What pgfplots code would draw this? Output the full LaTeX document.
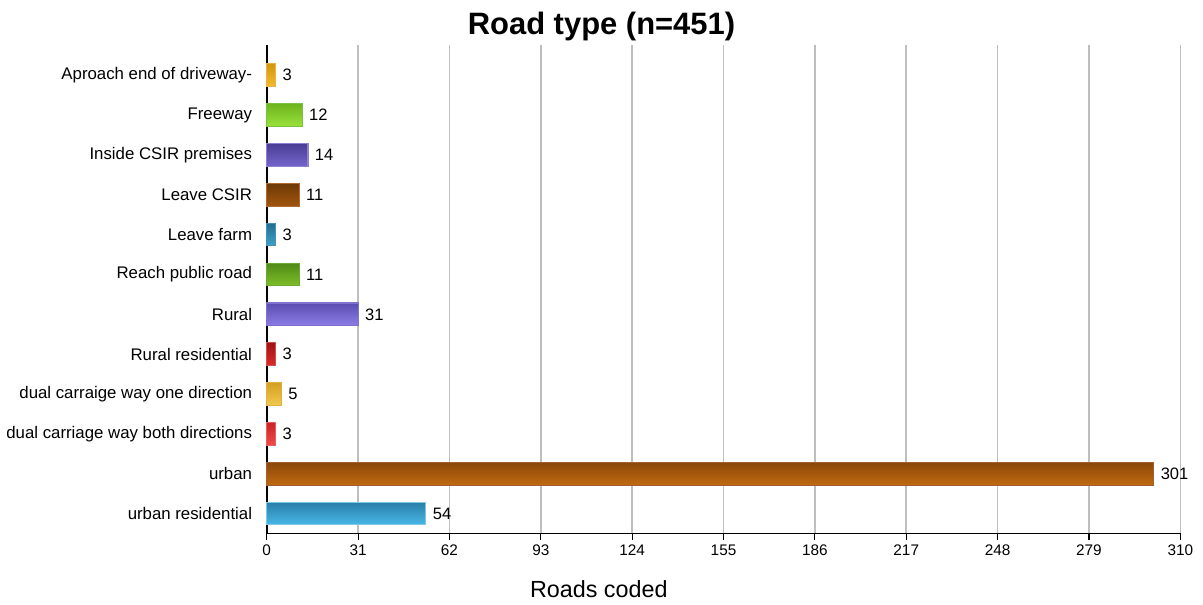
\documentclass[border=0pt]{standalone}
\usepackage{pgfplots}
\pgfplotsset{compat=1.18}
\usepackage{fontspec}
\setmainfont{Liberation Sans}

% bar colours: top shade, bottom shade, outline
\definecolor{apT}{HTML}{D4960C}\definecolor{apB}{HTML}{F5BC2E}\definecolor{apD}{HTML}{E6B24A}
\definecolor{fwT}{HTML}{6CB51E}\definecolor{fwB}{HTML}{9AE23A}\definecolor{fwD}{HTML}{7CC040}
\definecolor{inT}{HTML}{4A3D94}\definecolor{inB}{HTML}{7565CC}\definecolor{inD}{HTML}{8C80D0}
\definecolor{lcT}{HTML}{6E3A06}\definecolor{lcB}{HTML}{A0550E}\definecolor{lcD}{HTML}{B06A30}
\definecolor{lfT}{HTML}{236E8E}\definecolor{lfB}{HTML}{3DA3CC}\definecolor{lfD}{HTML}{4A90B0}
\definecolor{rpT}{HTML}{4E8A16}\definecolor{rpB}{HTML}{7FBF2A}\definecolor{rpD}{HTML}{6AA830}
\definecolor{ruT}{HTML}{5A4DB0}\definecolor{ruB}{HTML}{8C7DE6}\definecolor{ruD}{HTML}{8070D0}
\definecolor{rrT}{HTML}{9E1414}\definecolor{rrB}{HTML}{DD2A2A}\definecolor{rrD}{HTML}{D05050}
\definecolor{d1T}{HTML}{D4A020}\definecolor{d1B}{HTML}{F2C850}\definecolor{d1D}{HTML}{E0B040}
\definecolor{d2T}{HTML}{C82424}\definecolor{d2B}{HTML}{F24A4A}\definecolor{d2D}{HTML}{E86060}
\definecolor{urT}{HTML}{8A4808}\definecolor{urB}{HTML}{C06A10}\definecolor{urD}{HTML}{A06030}
\definecolor{usT}{HTML}{2A7EA8}\definecolor{usB}{HTML}{48B8E8}\definecolor{usD}{HTML}{80C8E8}
\definecolor{gridgray}{HTML}{BEBEBE}

\newcommand{\rbar}[5]{\addplot[top color=#1, bottom color=#2, draw=#3, line width=0.8pt] coordinates {(#4,#5)};}

\begin{document}
\begin{tikzpicture}
\begin{axis}[
  at={(200pt,0pt)}, anchor=south west,
  scale only axis, width=685pt, height=366pt,
  xbar, bar shift=0pt, bar width=17pt,
  xmin=0, xmax=310,
  ymin=-0.5, ymax=11.75,
  xtick={0,31,62,93,124,155,186,217,248,279,310},
  ytick={0,1,2,3,4,5,6,7,8,9,10,11},
  yticklabels={urban residential, urban, dual carriage way both directions,
    dual carraige way one direction, Rural residential, Rural,
    Reach public road, Leave farm, Leave CSIR, Inside CSIR premises,
    Freeway, Aproach end of driveway-},
  axis lines*=left,
  axis line style={-, line width=1.3pt, black},
  xmajorgrids, major grid style={gridgray, line width=1.2pt},
  tick align=outside,
  xtick style={black, line width=0.8pt},
  major tick length=5pt,
  ytick style={draw=none},
  yticklabel style={font=\fontsize{12.6}{15}\selectfont, xshift=-2.5pt},
  xticklabel style={font=\fontsize{11.5}{13}\selectfont},
  /pgf/number format/assume math mode=true,
  point meta=x,
  nodes near coords,
  every node near coord/.append style={font=\fontsize{12.4}{14}\selectfont, text=black, anchor=west, xshift=1.5pt},
  clip=false,
]
\rbar{apT}{apB}{apD}{3}{11}
\rbar{fwT}{fwB}{fwD}{12}{10}
\rbar{inT}{inB}{inD}{14}{9}
\rbar{lcT}{lcB}{lcD}{11}{8}
\rbar{lfT}{lfB}{lfD}{3}{7}
\rbar{rpT}{rpB}{rpD}{11}{6}
\rbar{ruT}{ruB}{ruD}{31}{5}
\rbar{rrT}{rrB}{rrD}{3}{4}
\rbar{d1T}{d1B}{d1D}{5}{3}
\rbar{d2T}{d2B}{d2D}{3}{2}
\rbar{urT}{urB}{urD}{301}{1}
\rbar{usT}{usB}{usD}{54}{0}
\end{axis}
\node[font=\bfseries\fontsize{23.2}{27}\selectfont] at (451pt,380pt) {Road type (n=451)};
\node[font=\fontsize{17.5}{20}\selectfont] at (449pt,-42pt) {Roads coded};
\path[use as bounding box] (0pt,-53pt) rectangle (902pt,400pt);
\end{tikzpicture}
\end{document}
